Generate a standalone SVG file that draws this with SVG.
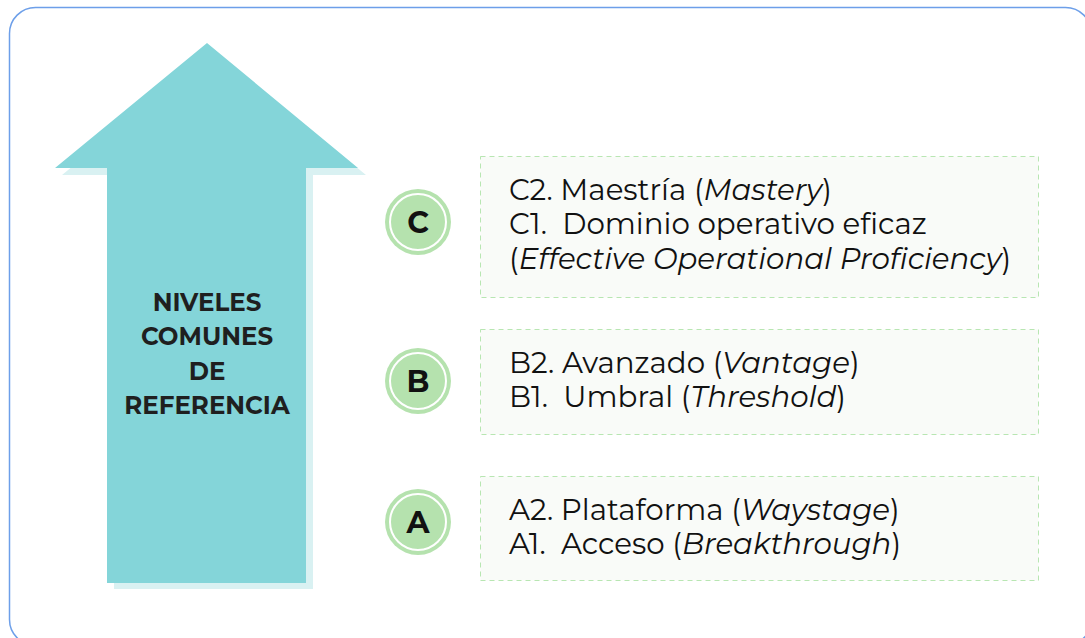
<svg xmlns="http://www.w3.org/2000/svg" width="1085" height="638" viewBox="0 0 1085 638">
  <style>
    .frame { fill: #ffffff; stroke: #6d9fe9; stroke-width: 1.5; }
    .shadow { fill: #d9f1f2; }
    .arrow { fill: #84d5d9; }
    .title { font-family: "Montserrat", "Open Sans", "Noto Sans", sans-serif; font-weight: 700; font-size: 24.5px; fill: #1f1f1f; text-anchor: middle; }
    .badge-outer { fill: #b5e2ae; }
    .badge-ring { fill: none; stroke: #ffffff; stroke-width: 2; }
    .badge-text { font-family: "Montserrat", "Open Sans", "Noto Sans", sans-serif; font-weight: 700; font-size: 30px; fill: #111111; text-anchor: middle; }
    .box { fill: #f9fbf8; stroke: #b8e6b2; stroke-width: 1; stroke-dasharray: 5 4; }
    .item { font-family: "Montserrat", "Open Sans", "Noto Sans", sans-serif; font-size: 29.3px; fill: #111111; white-space: pre; }
    .it { font-style: italic; }
  </style>
  <rect class="frame" x="9.5" y="7.5" width="1082" height="638" rx="26"/>

  <g id="arrow">
    <polygon class="shadow" points="214,50 366,175 313,175 313,589 114,589 114,175 62,175"/>
    <polygon class="arrow" points="207,43 358,168 306,168 306,583 107,583 107,168 55,168"/>
    <text class="title" x="207" y="311">NIVELES</text>
    <text class="title" x="207" y="345">COMUNES</text>
    <text class="title" x="207" y="380">DE</text>
    <text class="title" x="207" y="414">REFERENCIA</text>
  </g>

  <g id="badge-c">
    <circle class="badge-outer" cx="418" cy="222" r="33"/>
    <circle class="badge-ring" cx="418" cy="222" r="28"/>
    <text class="badge-text" x="418" y="233">C</text>
  </g>
  <g id="badge-b">
    <circle class="badge-outer" cx="418" cy="381" r="33"/>
    <circle class="badge-ring" cx="418" cy="381" r="28"/>
    <text class="badge-text" x="418" y="392">B</text>
  </g>
  <g id="badge-a">
    <circle class="badge-outer" cx="418" cy="522" r="33"/>
    <circle class="badge-ring" cx="418" cy="522" r="28"/>
    <text class="badge-text" x="418" y="533">A</text>
  </g>

  <g id="box-c">
    <rect class="box" x="480.5" y="156.5" width="558" height="141"/>
    <text class="item" x="509" y="200">C2. Maestría (<tspan class="it">Mastery</tspan>)</text>
    <text class="item" x="509" y="234" xml:space="preserve">C1.  Dominio operativo eficaz</text>
    <text class="item" x="509" y="269">(<tspan class="it">Effective Operational Proficiency</tspan>)</text>
  </g>
  <g id="box-b">
    <rect class="box" x="480.5" y="329.5" width="558" height="105"/>
    <text class="item" x="509" y="373">B2. Avanzado (<tspan class="it">Vantage</tspan>)</text>
    <text class="item" x="509" y="407" xml:space="preserve">B1.  Umbral (<tspan class="it">Threshold</tspan>)</text>
  </g>
  <g id="box-a">
    <rect class="box" x="480.5" y="476.5" width="558" height="104"/>
    <text class="item" x="509" y="520">A2. Plataforma (<tspan class="it">Waystage</tspan>)</text>
    <text class="item" x="509" y="554" xml:space="preserve">A1.  Acceso (<tspan class="it">Breakthrough</tspan>)</text>
  </g>
</svg>
